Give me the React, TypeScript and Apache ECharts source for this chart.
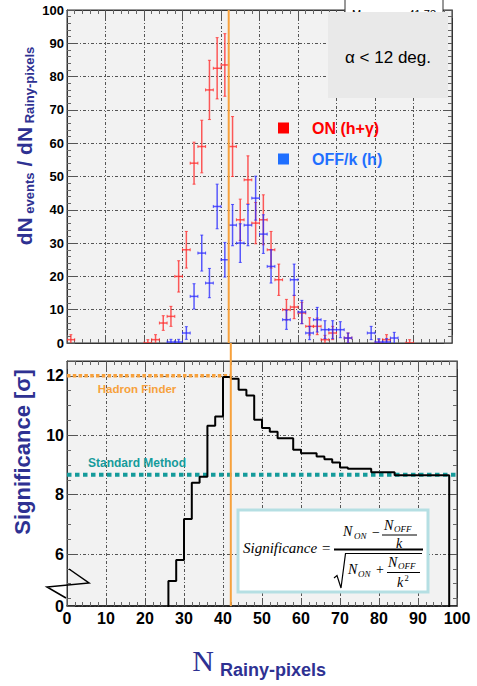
import React, { useEffect, useRef } from 'react';
import * as echarts from 'echarts';

// ---------- data ----------
// top panel: ON (h+gamma) histogram, bin centres / values / errors
const onX = [1, 21, 23, 25, 27, 29, 31, 33, 35, 37, 39, 41, 43, 45, 47, 49, 51, 53, 55, 57, 59, 61, 63, 65, 67, 69, 73, 81, 83, 89];
const onY = [1, 0, 1, 6, 8, 20, 28, 54, 59, 76, 82.5, 83.5, 59, 37, 49, 36, 37, 28, 19, 10, 10.8, 9, 5, 5, 1, 3, 1.5, 0, 1, 0];
const onErr = [1.5, 1, 1.5, 2.2, 3, 4.7, 5.5, 6.3, 7.9, 8.9, 9.2, 9.4, 9, 6.2, 7.2, 6.2, 7.5, 5.5, 4.7, 3.1, 3.5, 3.2, 2.6, 2.5, 1.3, 2, 1.5, 1, 1.5, 1];

// top panel: OFF/k (h) histogram
const offX = [27, 29, 31, 33, 35, 37, 39, 41, 43, 45, 47, 49, 51, 53, 57, 59, 61, 63, 65, 67, 69, 71, 73, 79, 81, 83, 85];
const offY = [0.3, 0.3, 3, 14, 27, 18, 41, 25, 35.4, 30, 35.4, 43.5, 32.7, 23, 7, 19, 9.3, 3, 7, 4, 4, 4, 1.5, 3, 0.3, 0.3, 1.5];
const offErr = [0.8, 0.8, 1.9, 3.8, 5.4, 4.4, 6.7, 5.2, 6.2, 5.8, 6.2, 6.6, 5.8, 5, 2.9, 4.7, 3.5, 2, 3.7, 2.7, 2.7, 2.4, 1.5, 2, 1, 1, 1.7];

// bottom panel: significance vs cut (step histogram, value holds from edge to next edge)
const sigEdges = [0, 26, 28, 30, 32, 34, 36, 38, 40, 42, 44, 46, 48, 50, 52, 54, 58, 60, 64, 66, 68, 70, 72, 78, 84, 98, 100];
const sigValues = [0, 5.09, 5.8, 7.18, 8.4, 8.6, 10.32, 10.63, 11.96, 11.9, 11.53, 11.34, 10.52, 10.24, 10.12, 9.9, 9.51, 9.39, 9.28, 9.19, 9.08, 8.91, 8.87, 8.75, 8.65, 0, 0];

const hadronFinderLevel = 12;
const standardMethodLevel = 8.67;
const cutX = 42;
const binHalfWidth = 1;

const legendNames = ['ON (h+γ)', 'OFF/k (h)'];

// ---------- styles ----------
const sans = "'Liberation Sans', Arial, Helvetica, sans-serif";
const serif = "'Liberation Serif', 'Times New Roman', serif";
const titleBlue = '#2e3192';
const orange = '#f7a13c';
const teal = '#159b9b';
const gridDash = [3, 2, 1, 2];

function errorBars(color: string) {
  return (params: any, api: any) => {
    const x = api.value(0);
    const y = api.value(1);
    const e = api.value(2);
    const pL = api.coord([x - binHalfWidth, y]);
    const pR = api.coord([x + binHalfWidth, y]);
    const pT = api.coord([x, y + e]);
    const pB = api.coord([x, y - e]);
    const st = { stroke: color, lineWidth: 1.5, fill: 'none' };
    const cap = { stroke: color, lineWidth: 1, fill: 'none' };
    const c = 1.5;
    return {
      type: 'group',
      children: [
        { type: 'line', shape: { x1: pL[0], y1: pL[1], x2: pR[0], y2: pR[1] }, style: st },
        { type: 'line', shape: { x1: pT[0], y1: pT[1], x2: pB[0], y2: pB[1] }, style: st },
        { type: 'line', shape: { x1: pL[0], y1: pL[1] - c, x2: pL[0], y2: pL[1] + c }, style: cap },
        { type: 'line', shape: { x1: pR[0], y1: pR[1] - c, x2: pR[0], y2: pR[1] + c }, style: cap },
        { type: 'line', shape: { x1: pT[0] - c, y1: pT[1], x2: pT[0] + c, y2: pT[1] }, style: cap },
        { type: 'line', shape: { x1: pB[0] - c, y1: pB[1], x2: pB[0] + c, y2: pB[1] }, style: cap },
      ],
    };
  };
}

function frameAxis(extra: any) {
  return {
    type: 'value',
    axisLine: { show: true, onZero: false, lineStyle: { color: '#333', width: 1 } },
    axisTick: { show: true, inside: true, length: 8, lineStyle: { color: '#555' } },
    minorTick: { show: true, splitNumber: 5, length: 4, lineStyle: { color: '#666' } },
    splitLine: { show: false },
    axisLabel: { show: false },
    ...extra,
  };
}

function t(x: number, y: number, text: string, size: number, opts: any = {}) {
  return {
    type: 'text',
    x,
    y,
    z: 100,
    style: {
      text,
      fontSize: size,
      fontFamily: serif,
      fontStyle: 'italic',
      fill: '#000',
      textAlign: 'left',
      textVerticalAlign: 'middle',
      ...opts,
    },
  };
}

function buildOption() {
  const xCommon = { min: 0, max: 100, interval: 10 };
  return {
    animation: false,
    backgroundColor: '#ffffff',
    grid: [
      { left: 67, top: 10, width: 385, height: 333, show: true, backgroundColor: '#f2f2f2', borderColor: '#333', borderWidth: 1 },
      { left: 67, top: 361, width: 390, height: 245, show: true, backgroundColor: '#f2f2f2', borderColor: '#333', borderWidth: 1 },
    ],
    legend: {
      orient: 'vertical',
      left: 273,
      top: 115,
      itemWidth: 11,
      itemHeight: 11,
      itemGap: 15,
      selectedMode: false,
      data: [
        { name: legendNames[0], icon: 'rect', textStyle: { color: '#ff0000' } },
        { name: legendNames[1], icon: 'rect', textStyle: { color: '#1f6fff' } },
      ],
      textStyle: { fontSize: 16, fontWeight: 'bold', fontFamily: sans, padding: [0, 0, 0, 18], lineHeight: 16 },
    },
    xAxis: [
      frameAxis({
        gridIndex: 0, position: 'bottom', ...xCommon,
        splitLine: { show: true, lineStyle: { color: '#555', type: gridDash, width: 1 } },
      }),
      frameAxis({ gridIndex: 0, position: 'top', ...xCommon }),
      frameAxis({
        gridIndex: 1, position: 'bottom', ...xCommon,
        axisLine: { show: true, onZero: false, lineStyle: { color: '#111', width: 1.5 } },
        splitLine: { show: true, lineStyle: { color: '#555', type: gridDash, width: 1 } },
        axisLabel: { show: true, fontSize: 16, fontWeight: 'bold', fontFamily: sans, color: '#000', margin: 4 },
      }),
      frameAxis({ gridIndex: 1, position: 'top', ...xCommon }),
    ],
    yAxis: [
      frameAxis({
        gridIndex: 0, position: 'left', min: 0, max: 100, interval: 10,
        splitLine: { show: true, lineStyle: { color: '#555', type: gridDash, width: 1 } },
        axisLabel: { show: true, fontSize: 13, fontWeight: 'bold', fontFamily: sans, color: '#000', margin: 3 },
      }),
      frameAxis({ gridIndex: 0, position: 'right', min: 0, max: 100, interval: 10 }),
      frameAxis({
        gridIndex: 1, position: 'left', min: 4.25, max: 12.5, splitNumber: 4,
        minorTick: { show: true, splitNumber: 4, length: 4, lineStyle: { color: '#666' } },
        splitLine: { show: true, lineStyle: { color: '#555', type: gridDash, width: 1 } },
        axisLabel: {
          show: true, fontSize: 16, fontWeight: 'bold', fontFamily: sans, color: '#000', margin: 3,
          formatter: (v: number) => (v < 5 ? '0' : v > 12.2 ? '' : String(v)),
        },
      }),
      frameAxis({
        gridIndex: 1, position: 'right', min: 4.25, max: 12.5, splitNumber: 4,
        minorTick: { show: true, splitNumber: 4, length: 4, lineStyle: { color: '#666' } },
      }),
    ],
    series: [
      {
        name: legendNames[0],
        type: 'custom',
        xAxisIndex: 0,
        yAxisIndex: 0,
        clip: true,
        itemStyle: { color: '#ff0000' },
        renderItem: errorBars('rgba(255,45,45,0.78)'),
        encode: { x: 0, y: 1 },
        data: onX.map((x, i) => [x, onY[i], onErr[i]]),
        z: 3,
      },
      {
        name: legendNames[1],
        type: 'custom',
        xAxisIndex: 0,
        yAxisIndex: 0,
        clip: true,
        itemStyle: { color: '#1f6fff' },
        renderItem: errorBars('rgba(45,45,255,0.78)'),
        encode: { x: 0, y: 1 },
        data: offX.map((x, i) => [x, offY[i], offErr[i]]),
        z: 3,
      },
      {
        name: 'cut-top',
        type: 'line',
        xAxisIndex: 0,
        yAxisIndex: 0,
        symbol: 'none',
        lineStyle: { color: orange, width: 2 },
        data: [[cutX, 0], [cutX, 100]],
        z: 4,
      },
      {
        name: 'Hadron Finder',
        type: 'line',
        xAxisIndex: 2,
        yAxisIndex: 2,
        symbol: 'none',
        lineStyle: { color: orange, width: 3.5, type: [3.5, 2.3] },
        data: [[0, hadronFinderLevel], [cutX, hadronFinderLevel]],
        z: 3,
      },
      {
        name: 'Standard Method',
        type: 'line',
        xAxisIndex: 2,
        yAxisIndex: 2,
        symbol: 'none',
        lineStyle: { color: teal, width: 4, type: [4.5, 3.5] },
        data: [[0, standardMethodLevel], [100, standardMethodLevel]],
        z: 3,
      },
      {
        name: 'Significance',
        type: 'line',
        xAxisIndex: 2,
        yAxisIndex: 2,
        symbol: 'none',
        step: 'end',
        clip: true,
        lineStyle: { color: '#000', width: 2 },
        data: sigEdges.map((x, i) => [x, sigValues[i]]),
        z: 4,
      },
      {
        name: 'cut-bottom',
        type: 'line',
        xAxisIndex: 2,
        yAxisIndex: 2,
        symbol: 'none',
        clip: false,
        lineStyle: { color: orange, width: 2 },
        data: [[cutX, 4.25], [cutX, 13.107]],
        z: 5,
      },
    ],
    graphic: [
      // partially hidden stats box
      { type: 'rect', shape: { x: 345, y: -1, width: 98, height: 14 }, style: { fill: '#fff', stroke: '#333', lineWidth: 1 }, z: 100 },
      { type: 'text', x: 352, y: 8, z: 100, style: { text: 'M', fontSize: 11, fontFamily: sans, fill: '#000' } },
      { type: 'text', x: 436, y: 8, z: 100, style: { text: '41.73', fontSize: 11, fontFamily: sans, fill: '#000', textAlign: 'right' } },
      // alpha box
      { type: 'rect', shape: { x: 328, y: 12, width: 120, height: 86 }, style: { fill: '#e9e9e9' }, z: 101 },
      { type: 'text', x: 388, y: 57, z: 102, style: { text: 'α < 12 deg.', fontSize: 17, fontFamily: sans, fill: '#000', textAlign: 'center', textVerticalAlign: 'middle' } },
      // line labels
      { type: 'text', x: 137, y: 389, z: 102, style: { text: 'Hadron Finder', fontSize: 11.5, fontWeight: 'bold', fontFamily: sans, fill: orange, textAlign: 'center', textVerticalAlign: 'middle' } },
      { type: 'text', x: 137, y: 463, z: 102, style: { text: 'Standard Method', fontSize: 12, fontWeight: 'bold', fontFamily: sans, fill: teal, textAlign: 'center', textVerticalAlign: 'middle' } },
      // formula box
      { type: 'rect', shape: { x: 238, y: 510, width: 190, height: 82 }, style: { fill: '#fff', stroke: '#b5dfe3', lineWidth: 3 }, z: 99 },
      t(243, 548, 'Significance =', 15),
      t(343, 531, 'N', 14),
      t(354, 536, 'ON', 9),
      t(372, 532, '−', 14, { fontStyle: 'normal' }),
      t(384, 525, 'N', 14),
      t(394, 529, 'OFF', 9),
      { type: 'line', z: 100, shape: { x1: 382, y1: 535, x2: 417, y2: 535 }, style: { stroke: '#000', lineWidth: 1 } },
      t(399, 543.5, 'k', 14, { textAlign: 'center' }),
      { type: 'line', z: 100, shape: { x1: 334, y1: 549.5, x2: 423, y2: 549.5 }, style: { stroke: '#000', lineWidth: 2 } },
      { type: 'polyline', z: 100, shape: { points: [[334, 578], [337, 575.5], [341, 588], [345.5, 553.5], [422, 553.5]] }, style: { stroke: '#000', lineWidth: 1.2, fill: 'none' } },
      t(348, 569, 'N', 14),
      t(358, 574, 'ON', 9),
      t(376, 569, '+', 14, { fontStyle: 'normal' }),
      t(388, 562, 'N', 14),
      t(398, 566, 'OFF', 9),
      { type: 'line', z: 100, shape: { x1: 387, y1: 572.5, x2: 420, y2: 572.5 }, style: { stroke: '#000', lineWidth: 1 } },
      t(397, 582, 'k', 14),
      t(404.5, 577.5, '2', 8.5, { fontStyle: 'normal' }),
      // axis break mark
      { type: 'polyline', z: 100, shape: { points: [[69, 569], [89, 583], [47, 587], [66, 598]] }, style: { stroke: '#000', lineWidth: 1.5, fill: 'none' } },
      // axis titles
      {
        type: 'text', x: 24, y: 146, rotation: Math.PI / 2, z: 100,
        style: {
          text: '{b|dN}{s| events}{b| / dN}{s| Rainy-pixels}',
          textAlign: 'center', textVerticalAlign: 'middle',
          rich: {
            b: { fontSize: 21, fontWeight: 'bold', fontFamily: sans, fill: titleBlue, lineHeight: 24 },
            s: { fontSize: 13, fontWeight: 'bold', fontFamily: sans, fill: titleBlue, lineHeight: 12, verticalAlign: 'bottom' },
          },
        },
      },
      {
        type: 'text', x: 22, y: 452, rotation: Math.PI / 2, z: 100,
        style: { text: 'Significance [σ]', fontSize: 22, fontWeight: 'bold', fontFamily: sans, fill: titleBlue, textAlign: 'center', textVerticalAlign: 'middle' },
      },
      { type: 'text', x: 203, y: 660, z: 100, style: { text: 'N', fontSize: 30, fontFamily: serif, fill: titleBlue, textAlign: 'center', textVerticalAlign: 'middle' } },
      { type: 'text', x: 220, y: 670, z: 100, style: { text: 'Rainy-pixels', fontSize: 18, fontWeight: 'bold', fontFamily: sans, fill: titleBlue, textAlign: 'left', textVerticalAlign: 'middle' } },
    ],
  };
}

export default function App() {
  const ref = useRef<HTMLDivElement>(null);
  useEffect(() => {
    if (!ref.current) return;
    const chart = echarts.init(ref.current, null, { renderer: 'svg' });
    chart.setOption(buildOption() as any);
    return () => chart.dispose();
  }, []);
  return (
    <div
      ref={ref}
      style={{ position: 'absolute', left: 0, top: 0, width: 477, height: 686, background: '#fff' }}
    />
  );
}
